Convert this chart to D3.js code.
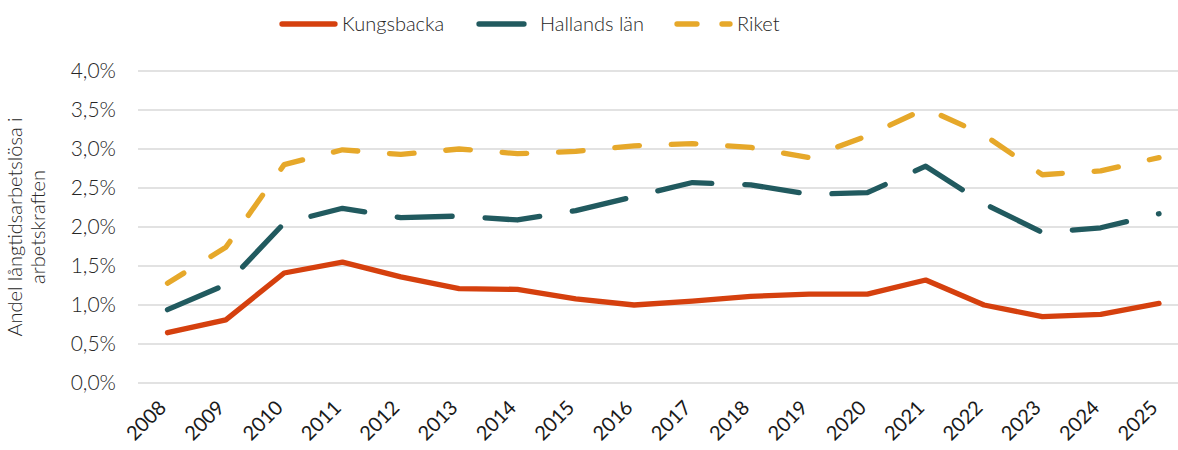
<!DOCTYPE html>
<html>
<head>
<meta charset="utf-8">
<script src="https://cdn.jsdelivr.net/npm/d3@7"></script>
<style>
    body { margin: 0; background: #fff; }
    svg text { font-family: Lato, "Open Sans", sans-serif; font-weight: 300; fill: #262626; }
</style>
</head>
<body>
<div id="chart"></div>
<script>
var years = ["2008", "2009", "2010", "2011", "2012", "2013", "2014", "2015", "2016",
    "2017", "2018", "2019", "2020", "2021", "2022", "2023", "2024", "2025"];

var kungsbacka = [0.645, 0.81, 1.41, 1.55, 1.36, 1.21, 1.20, 1.08, 1.00,
    1.05, 1.11, 1.14, 1.14, 1.32, 1.00, 0.85, 0.88, 1.02];
var hallands = [0.94, 1.26, 2.05, 2.24, 2.12, 2.14, 2.09, 2.21, 2.39,
    2.57, 2.54, 2.42, 2.44, 2.78, 2.30, 1.93, 1.99, 2.17];
var riket = [1.28, 1.74, 2.80, 2.99, 2.93, 3.00, 2.94, 2.97, 3.04,
    3.07, 3.02, 2.89, 3.17, 3.52, 3.18, 2.67, 2.72, 2.89];

var yTicks = [0, 0.5, 1, 1.5, 2, 2.5, 3, 3.5, 4];

var series = [
    { name: "Kungsbacka", values: kungsbacka, color: "#d5400e", dash: null, endDot: false, gapAt: null, legendDash: null, legendLen: 53, textX: 342 },
    { name: "Hallands län", values: hallands, color: "#215a5f", dash: [55, 32], endDot: true, gapAt: null, legendDash: null, legendLen: 45, textX: 540 },
    { name: "Riket", values: riket, color: "#e6a82a", dash: [24, 31], endDot: false, gapAt: 13, legendDash: "20 25", legendLen: 53, textX: 737 }
];

var width = 1178, height = 450;
var plotLeft = 138, plotRight = 1178, plotTop = 71, plotBottom = 383;

var svg = d3.select("#chart").append("svg")
    .attr("width", width)
    .attr("height", height);

var x = d3.scalePoint().domain(years).range([167.5, 1159]);
var y = d3.scaleLinear().domain([0, 4]).range([plotBottom, plotTop]);

// grid
svg.append("g").selectAll("line").data(yTicks)
    .enter().append("line")
    .attr("x1", plotLeft).attr("x2", plotRight)
    .attr("y1", function (d) { return y(d); })
    .attr("y2", function (d) { return y(d); })
    .style("stroke", "#d9d9d9").style("stroke-width", 1.5);

// y labels
svg.append("g").selectAll("text").data(yTicks)
    .enter().append("text")
    .attr("x", 116)
    .attr("y", function (d) { return y(d); })
    .attr("dy", "0.35em")
    .attr("text-anchor", "end")
    .style("font-size", "21px")
    .text(function (d) { return d.toFixed(1).replace(".", ",") + "%"; });

// x labels
svg.append("g").selectAll("text").data(years)
    .enter().append("text")
    .attr("transform", function (d) { return "translate(" + (x(d) - 5) + ",404) rotate(-45)"; })
    .attr("text-anchor", "end")
    .attr("dy", "0.35em")
    .style("font-size", "20px")
    .style("font-weight", 400)
    .style("fill", "#1a1a1a")
    .text(function (d) { return d; });

// y title
var title = svg.append("text")
    .attr("transform", "translate(24,227) rotate(-90)")
    .attr("text-anchor", "middle")
    .style("font-size", "20px");
title.append("tspan").attr("x", 0).attr("dy", "-0.1em").text("Andel långtidsarbetslösa i");
title.append("tspan").attr("x", 0).attr("dy", "1.15em").text("arbetskraften");

var line = d3.line()
    .x(function (d, i) { return x(years[i]); })
    .y(function (d) { return y(d); });

var paths = svg.append("g").selectAll("path").data(series)
    .enter().append("path")
    .attr("d", function (d) { return line(d.values); })
    .style("fill", "none")
    .style("stroke", function (d) { return d.color; })
    .style("stroke-width", 5.3)
    .style("stroke-linecap", "round")
    .style("stroke-linejoin", "round");

// length along the line up to point i
function lengthTo(values, i) {
    var s = 0;
    for (var k = 1; k <= i; k++) {
        var dx = x(years[k]) - x(years[k - 1]), dy = y(values[k]) - y(values[k - 1]);
        s += Math.sqrt(dx * dx + dy * dy);
    }
    return s;
}

// dash pattern; Hallands ends on a dot, Riket starts mid-dash and has a gap at the 2021 peak
var startPhase = 5.5;
paths.each(function (d) {
    if (!d.dash) return;
    var dash = d.dash[0], gap = d.dash[1];
    if (d.endDot) {
        var len = this.getTotalLength();
        var n = Math.floor(len / (dash + gap));
        gap = (len - 0.5) / n - dash;
    }
    var sel = d3.select(this);
    if (d.gapAt != null) {
        var run = lengthTo(d.values, d.gapAt) - (dash + gap / 2 - startPhase);
        var m = Math.round(run / (dash + gap));
        var k = run / m / (dash + gap);
        dash *= k; gap *= k;
        sel.style("stroke-dashoffset", startPhase);
    }
    sel.style("stroke-dasharray", dash + " " + gap);
});

// legend
var legend = svg.append("g");
var legendStart = [282, 479, 677];
series.forEach(function (s, i) {
    legend.append("line")
        .attr("x1", legendStart[i]).attr("x2", legendStart[i] + s.legendLen)
        .attr("y1", 24).attr("y2", 24)
        .style("stroke", s.color)
        .style("stroke-width", 5.3)
        .style("stroke-linecap", "round")
        .style("stroke-dasharray", s.legendDash);
    legend.append("text")
        .attr("x", s.textX).attr("y", 24).attr("dy", "0.35em")
        .style("font-size", "20px")
        .text(s.name);
});
</script>
</body>
</html>
